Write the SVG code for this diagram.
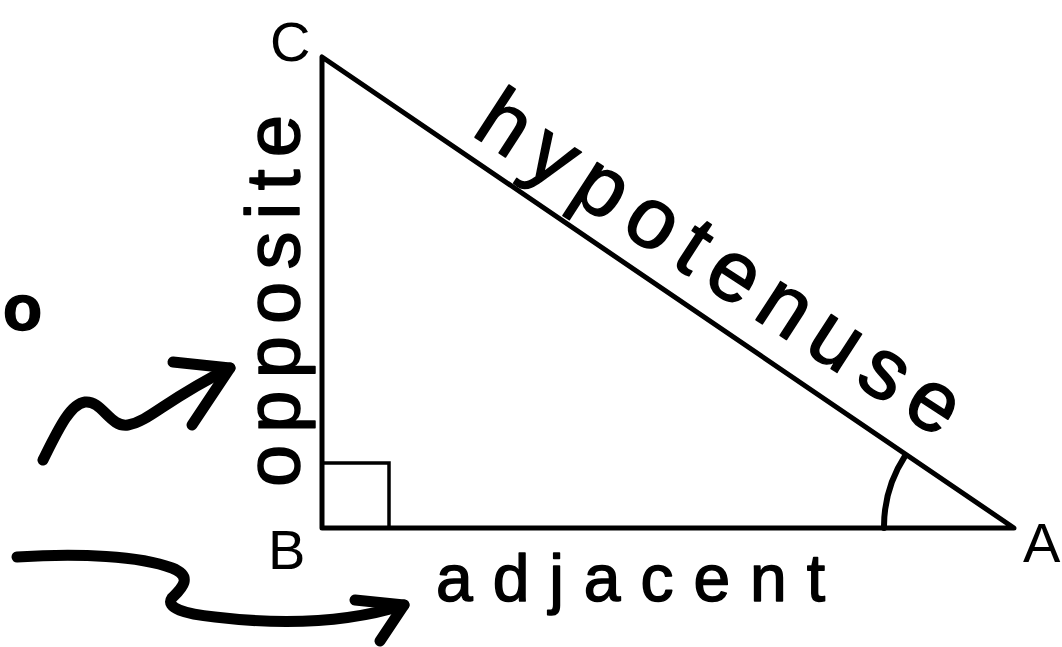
<svg xmlns="http://www.w3.org/2000/svg" width="1062" height="647" viewBox="0 0 1062 647">
  <style>
    .edge { fill: none; stroke: #000; stroke-width: 5; stroke-linecap: round; stroke-linejoin: round; }
    .thin { fill: none; stroke: #000; stroke-width: 3.5; }
    .marker { fill: none; stroke: #000; stroke-width: 11; stroke-linecap: round; stroke-linejoin: round; }
    .label { font-family: "Liberation Sans", Arial, sans-serif; font-size: 56px; fill: #000; }
    .hand { font-family: "Liberation Sans", Arial, sans-serif; fill: #000; stroke: #000; stroke-width: 1.5; stroke-linejoin: round; }
  </style>
  <rect width="1062" height="647" fill="#fff"/>

  <g id="triangle">
    <path class="edge" d="M322,57 L322,528 L1014,528 Z"/>
    <rect class="thin" x="322" y="463" width="67" height="65"/>
    <path d="M905,456 A130,130 0 0 0 884,528" fill="none" stroke="#000" stroke-width="6" stroke-linecap="round"/>
  </g>

  <g id="label-C"><text class="label" x="270" y="61">C</text></g>
  <g id="label-B"><text class="label" x="268" y="569">B</text></g>
  <g id="label-A"><text class="label" x="1023" y="562">A</text></g>

  <g id="text-hypotenuse">
    <text class="hand" font-size="86" transform="translate(470,134) rotate(33)" textLength="560" lengthAdjust="spacing">hypotenuse</text>
  </g>
  <g id="text-opposite">
    <text class="hand" font-size="76" transform="translate(299,487) rotate(-90)" textLength="372" lengthAdjust="spacing">opposite</text>
  </g>
  <g id="text-adjacent">
    <text class="hand" font-size="66" x="436" y="601" textLength="389" lengthAdjust="spacing">adjacent</text>
  </g>
  <g id="text-o">
    <text class="hand" font-size="64" font-weight="bold" x="3" y="330">o</text>
  </g>

  <g id="connectors">
    <path class="marker" d="M43,460 C58,430 70,404 85,402 C102,400 110,428 128,425 C150,421 165,400 230,368"/>
    <path class="marker" d="M173,362 L230,368 L192,425"/>
    <path class="marker" d="M17,557 C80,553 140,556 172,568 C195,577 180,590 172,598 C165,608 185,614 215,617 C290,626 350,622 404,605"/>
    <path class="marker" d="M355,600 L404,605 L380,641"/>
  </g>
</svg>
